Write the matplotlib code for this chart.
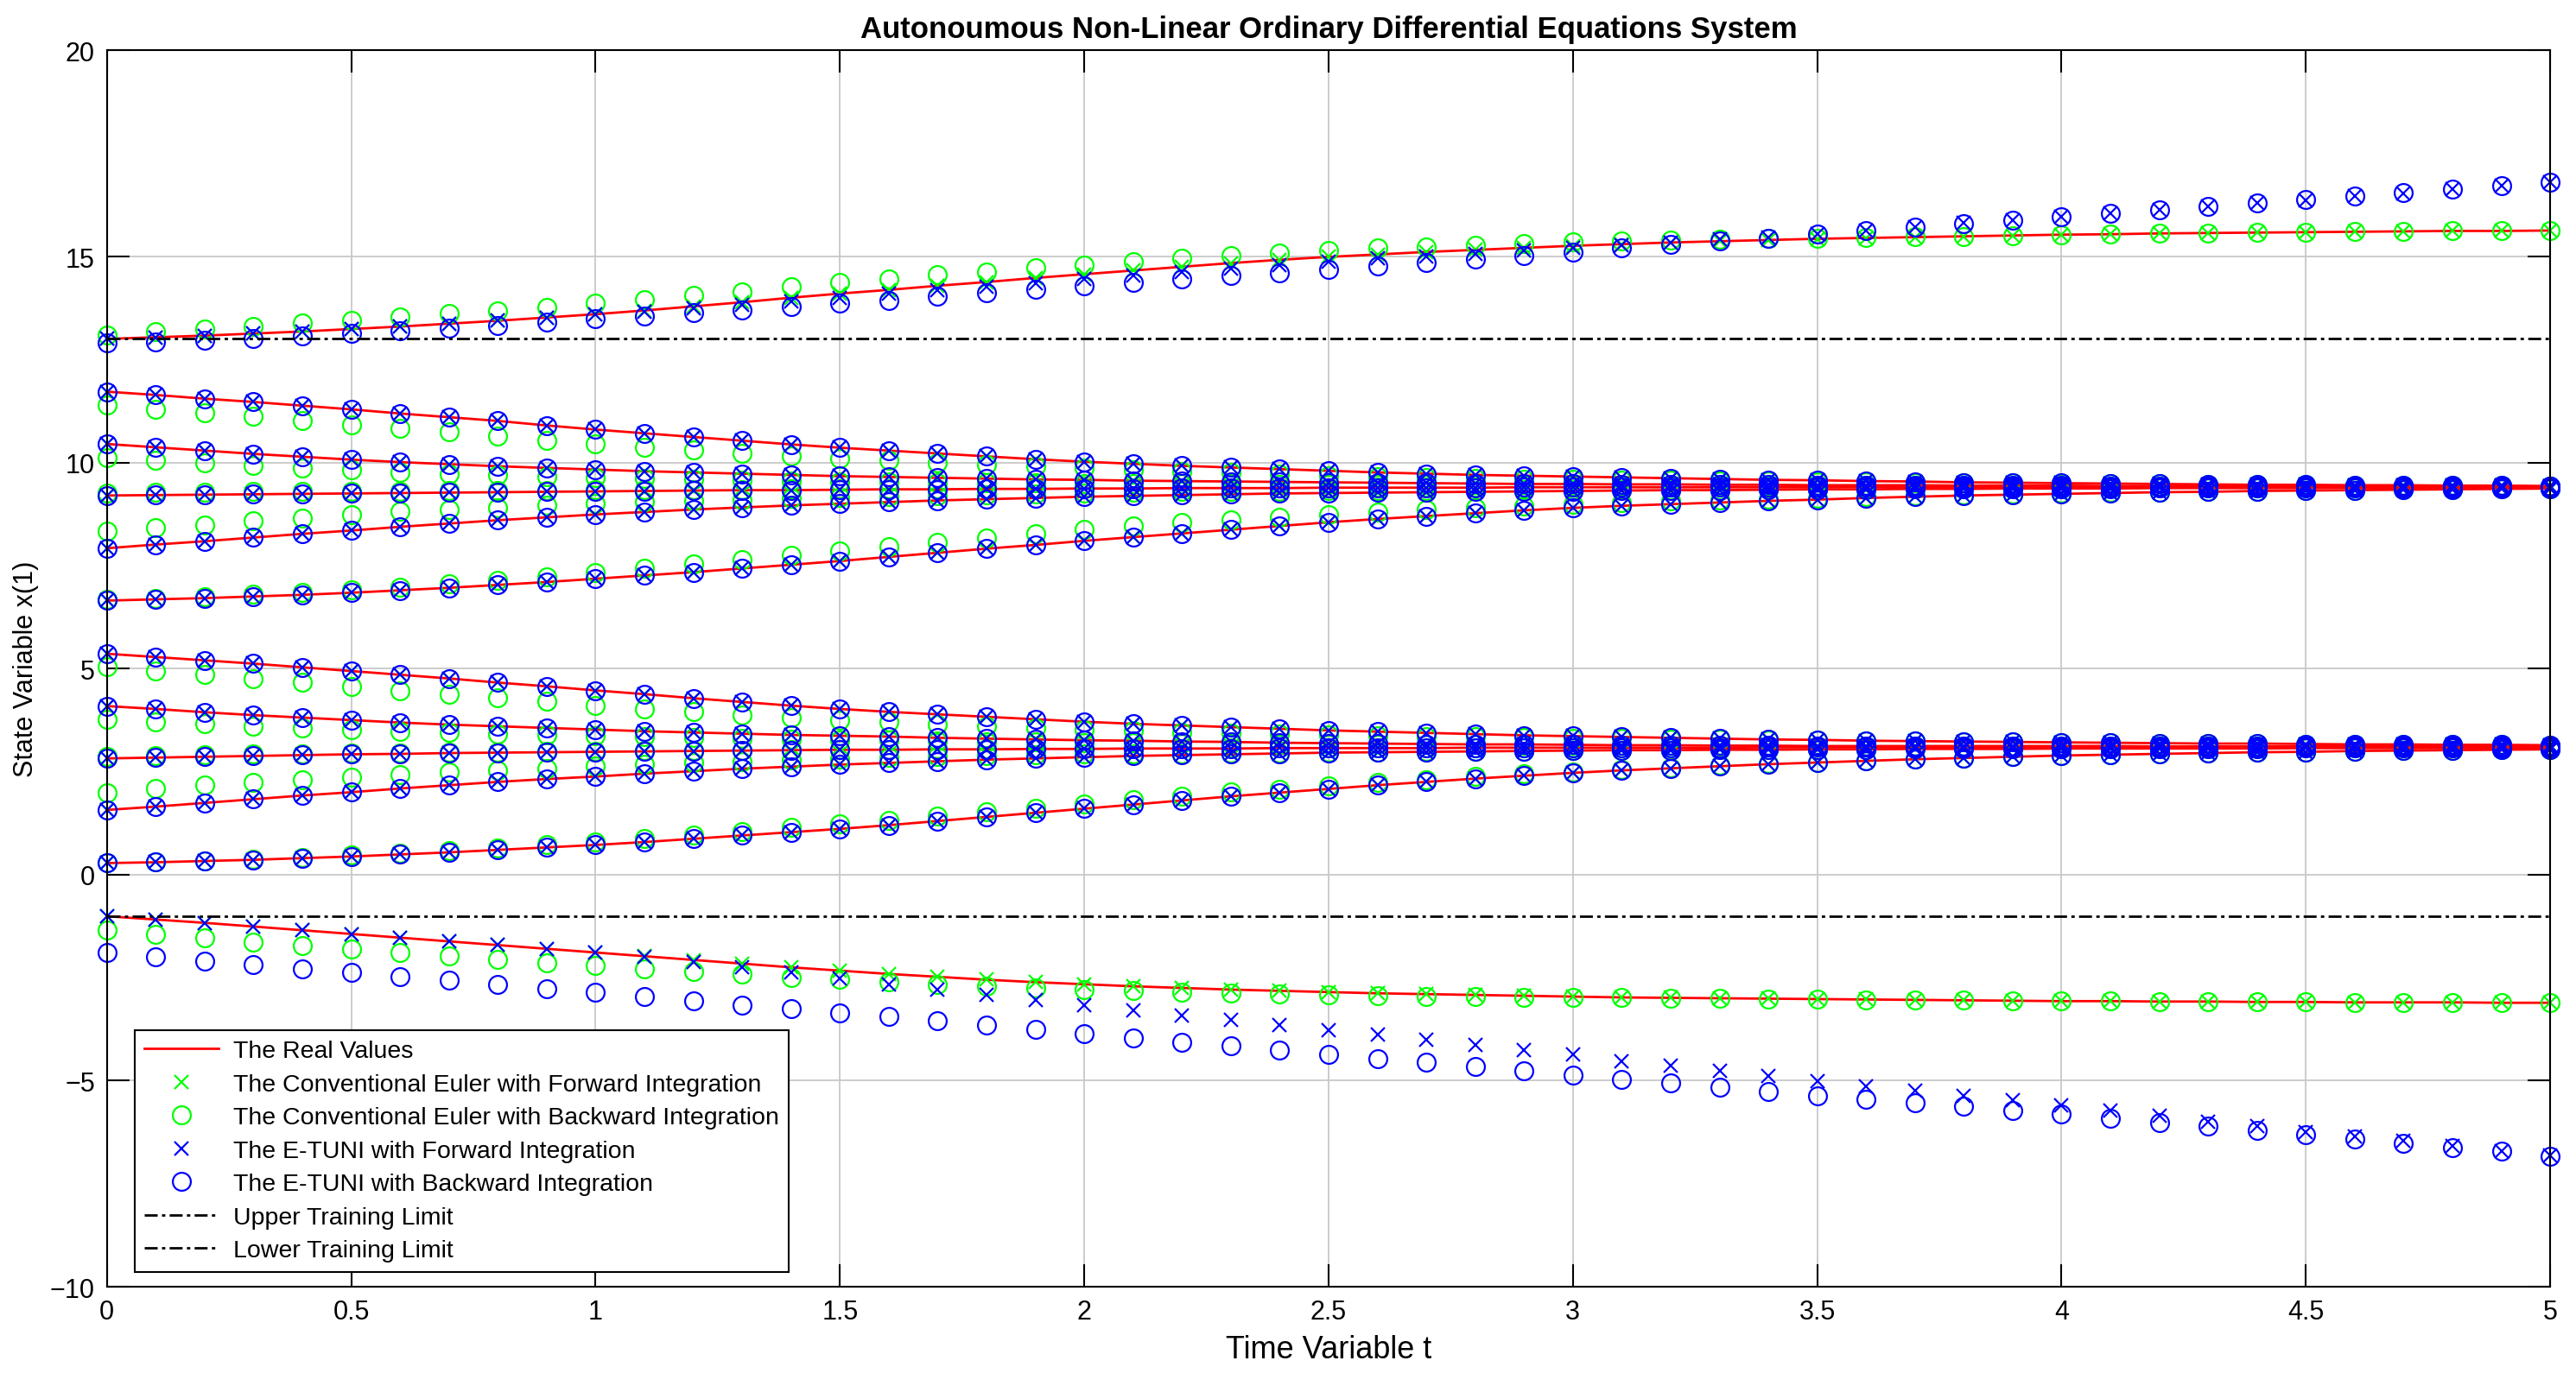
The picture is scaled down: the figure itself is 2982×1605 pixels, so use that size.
import matplotlib
matplotlib.use("Agg")
import matplotlib.pyplot as plt

plt.rcParams["font.family"] = ["Liberation Sans", "DejaVu Sans"]

# time grid (markers every 0.1)
t = [0.0, 0.1, 0.2, 0.3, 0.4, 0.5, 0.6, 0.7, 0.8, 0.9,
     1.0, 1.1, 1.2, 1.3, 1.4, 1.5, 1.6, 1.7, 1.8, 1.9,
     2.0, 2.1, 2.2, 2.3, 2.4, 2.5, 2.6, 2.7, 2.8, 2.9,
     3.0, 3.1, 3.2, 3.3, 3.4, 3.5, 3.6, 3.7, 3.8, 3.9,
     4.0, 4.1, 4.2, 4.3, 4.4, 4.5, 4.6, 4.7, 4.8, 4.9,
     5.0]

UPPER_LIMIT = 13.0
LOWER_LIMIT = -1.0

# ---- real values, one list per initial condition ----
real_01 = [13.00, 13.04, 13.08, 13.13, 13.18, 13.24, 13.30, 13.37, 13.44, 13.52,
           13.60, 13.69, 13.79, 13.89, 14.00, 14.10, 14.19, 14.29, 14.38, 14.48,
           14.57, 14.66, 14.75, 14.84, 14.92, 14.99, 15.05, 15.11, 15.16, 15.21,
           15.26, 15.30, 15.34, 15.37, 15.40, 15.43, 15.45, 15.47, 15.49, 15.51,
           15.53, 15.54, 15.56, 15.57, 15.58, 15.59, 15.60, 15.61, 15.62, 15.62,
           15.63]
real_02 = [11.72, 11.64, 11.55, 11.47, 11.38, 11.29, 11.19, 11.10, 11.01, 10.90,
           10.80, 10.71, 10.62, 10.53, 10.44, 10.36, 10.29, 10.22, 10.15, 10.08,
           10.02, 9.97, 9.92, 9.88, 9.84, 9.80, 9.76, 9.73, 9.70, 9.68,
           9.66, 9.64, 9.62, 9.60, 9.58, 9.57, 9.55, 9.54, 9.52, 9.51,
           9.50, 9.49, 9.48, 9.47, 9.46, 9.46, 9.45, 9.45, 9.44, 9.44,
           9.43]
real_03 = [10.45, 10.37, 10.29, 10.21, 10.14, 10.07, 10.01, 9.96, 9.91, 9.87,
           9.83, 9.79, 9.76, 9.73, 9.70, 9.67, 9.65, 9.63, 9.61, 9.59,
           9.58, 9.56, 9.55, 9.54, 9.53, 9.52, 9.51, 9.50, 9.49, 9.48,
           9.48, 9.47, 9.47, 9.46, 9.46, 9.45, 9.45, 9.45, 9.44, 9.44,
           9.44, 9.43, 9.43, 9.43, 9.43, 9.42, 9.42, 9.42, 9.42, 9.42,
           9.42]
real_04 = [9.20, 9.21, 9.22, 9.23, 9.24, 9.25, 9.26, 9.27, 9.28, 9.29,
           9.30, 9.31, 9.32, 9.33, 9.33, 9.34, 9.35, 9.35, 9.36, 9.36,
           9.37, 9.37, 9.38, 9.38, 9.38, 9.39, 9.39, 9.39, 9.39, 9.40,
           9.40, 9.40, 9.40, 9.40, 9.40, 9.40, 9.41, 9.41, 9.41, 9.41,
           9.41, 9.41, 9.41, 9.41, 9.41, 9.41, 9.41, 9.41, 9.41, 9.41,
           9.41]
real_05 = [7.92, 8.01, 8.09, 8.18, 8.27, 8.35, 8.44, 8.52, 8.60, 8.67,
           8.74, 8.80, 8.86, 8.91, 8.96, 9.00, 9.04, 9.08, 9.11, 9.14,
           9.17, 9.19, 9.21, 9.23, 9.25, 9.26, 9.27, 9.28, 9.29, 9.30,
           9.31, 9.32, 9.33, 9.33, 9.34, 9.35, 9.35, 9.36, 9.36, 9.37,
           9.37, 9.37, 9.38, 9.38, 9.38, 9.38, 9.39, 9.39, 9.39, 9.39,
           9.39]
real_06 = [6.65, 6.68, 6.71, 6.75, 6.79, 6.84, 6.90, 6.96, 7.03, 7.10,
           7.18, 7.26, 7.34, 7.43, 7.52, 7.61, 7.71, 7.81, 7.91, 8.00,
           8.10, 8.19, 8.28, 8.37, 8.46, 8.55, 8.63, 8.70, 8.77, 8.84,
           8.90, 8.95, 8.99, 9.03, 9.07, 9.10, 9.14, 9.17, 9.20, 9.22,
           9.24, 9.26, 9.28, 9.29, 9.31, 9.32, 9.33, 9.34, 9.35, 9.36,
           9.37]
real_07 = [5.36, 5.28, 5.20, 5.12, 5.03, 4.94, 4.85, 4.76, 4.66, 4.57,
           4.47, 4.38, 4.28, 4.19, 4.10, 4.02, 3.95, 3.89, 3.83, 3.77,
           3.71, 3.66, 3.62, 3.58, 3.54, 3.50, 3.47, 3.44, 3.41, 3.38,
           3.36, 3.34, 3.32, 3.30, 3.28, 3.27, 3.25, 3.24, 3.23, 3.22,
           3.21, 3.20, 3.19, 3.18, 3.18, 3.17, 3.16, 3.16, 3.15, 3.15,
           3.14]
real_08 = [4.09, 4.02, 3.94, 3.87, 3.81, 3.75, 3.69, 3.64, 3.60, 3.56,
           3.52, 3.48, 3.45, 3.42, 3.39, 3.37, 3.35, 3.32, 3.30, 3.28,
           3.26, 3.25, 3.23, 3.22, 3.20, 3.19, 3.18, 3.17, 3.16, 3.16,
           3.15, 3.14, 3.14, 3.13, 3.13, 3.12, 3.12, 3.12, 3.12, 3.12,
           3.12, 3.12, 3.11, 3.11, 3.11, 3.11, 3.11, 3.11, 3.11, 3.11,
           3.11]
real_09 = [2.82, 2.84, 2.86, 2.88, 2.90, 2.92, 2.93, 2.95, 2.96, 2.97,
           2.98, 2.99, 3.00, 3.01, 3.02, 3.03, 3.03, 3.04, 3.04, 3.05,
           3.05, 3.06, 3.06, 3.06, 3.07, 3.07, 3.07, 3.07, 3.08, 3.08,
           3.08, 3.08, 3.08, 3.08, 3.09, 3.09, 3.09, 3.09, 3.09, 3.09,
           3.09, 3.09, 3.09, 3.10, 3.10, 3.10, 3.10, 3.10, 3.10, 3.10,
           3.10]
real_10 = [1.57, 1.65, 1.74, 1.83, 1.92, 2.00, 2.09, 2.17, 2.25, 2.32,
           2.38, 2.45, 2.51, 2.57, 2.62, 2.67, 2.71, 2.75, 2.79, 2.82,
           2.85, 2.88, 2.90, 2.92, 2.94, 2.96, 2.97, 2.98, 2.99, 3.00,
           3.01, 3.02, 3.02, 3.03, 3.03, 3.04, 3.04, 3.05, 3.05, 3.05,
           3.06, 3.06, 3.06, 3.06, 3.06, 3.07, 3.07, 3.07, 3.07, 3.07,
           3.07]
real_11 = [0.28, 0.30, 0.33, 0.36, 0.40, 0.44, 0.49, 0.54, 0.60, 0.66,
           0.72, 0.79, 0.87, 0.95, 1.03, 1.11, 1.20, 1.30, 1.40, 1.50,
           1.60, 1.70, 1.80, 1.90, 1.99, 2.08, 2.17, 2.25, 2.33, 2.40,
           2.47, 2.53, 2.58, 2.63, 2.68, 2.72, 2.76, 2.80, 2.83, 2.86,
           2.89, 2.91, 2.93, 2.95, 2.97, 2.98, 3.00, 3.01, 3.02, 3.03,
           3.04]
real_12 = [-1.01, -1.09, -1.17, -1.26, -1.35, -1.44, -1.53, -1.62, -1.71, -1.80,
           -1.89, -1.98, -2.07, -2.16, -2.25, -2.33, -2.41, -2.48, -2.55, -2.61,
           -2.66, -2.71, -2.75, -2.79, -2.82, -2.85, -2.88, -2.90, -2.92, -2.94,
           -2.96, -2.98, -2.99, -3.00, -3.01, -3.02, -3.03, -3.04, -3.05, -3.06,
           -3.07, -3.07, -3.08, -3.08, -3.09, -3.09, -3.10, -3.10, -3.10, -3.11,
           -3.11]

# ---- conventional Euler, backward integration (green circles) ----
euler_bwd_01 = [13.10, 13.17, 13.24, 13.31, 13.38, 13.45, 13.53, 13.61, 13.68, 13.77,
                13.87, 13.96, 14.05, 14.15, 14.26, 14.37, 14.46, 14.55, 14.63, 14.72,
                14.80, 14.88, 14.95, 15.02, 15.09, 15.15, 15.20, 15.24, 15.28, 15.32,
                15.35, 15.38, 15.40, 15.42, 15.44, 15.45, 15.46, 15.48, 15.49, 15.51,
                15.53, 15.54, 15.56, 15.57, 15.58, 15.59, 15.60, 15.61, 15.62, 15.62,
                15.63]
euler_bwd_02 = [11.39, 11.30, 11.21, 11.12, 11.02, 10.92, 10.83, 10.74, 10.65, 10.54,
                10.45, 10.37, 10.30, 10.23, 10.16, 10.10, 10.05, 10.00, 9.95, 9.90,
                9.86, 9.83, 9.79, 9.76, 9.72, 9.68, 9.65, 9.63, 9.61, 9.60,
                9.59, 9.58, 9.57, 9.56, 9.55, 9.54, 9.53, 9.52, 9.51, 9.50,
                9.49, 9.48, 9.48, 9.47, 9.46, 9.46, 9.45, 9.45, 9.44, 9.44,
                9.43]
euler_bwd_03 = [10.12, 10.05, 9.99, 9.92, 9.86, 9.82, 9.77, 9.73, 9.69, 9.66,
                9.63, 9.61, 9.59, 9.57, 9.55, 9.54, 9.53, 9.52, 9.51, 9.50,
                9.49, 9.49, 9.48, 9.48, 9.47, 9.47, 9.47, 9.46, 9.46, 9.46,
                9.46, 9.45, 9.45, 9.45, 9.45, 9.44, 9.44, 9.44, 9.44, 9.44,
                9.43, 9.43, 9.43, 9.43, 9.43, 9.42, 9.42, 9.42, 9.42, 9.42,
                9.42]
euler_bwd_04 = [9.26, 9.27, 9.28, 9.29, 9.29, 9.30, 9.31, 9.32, 9.32, 9.33,
                9.34, 9.34, 9.35, 9.35, 9.36, 9.36, 9.37, 9.37, 9.37, 9.38,
                9.38, 9.38, 9.39, 9.39, 9.39, 9.39, 9.40, 9.40, 9.40, 9.40,
                9.40, 9.40, 9.40, 9.40, 9.40, 9.40, 9.41, 9.41, 9.41, 9.41,
                9.41, 9.41, 9.41, 9.41, 9.41, 9.41, 9.41, 9.41, 9.41, 9.41,
                9.41]
euler_bwd_05 = [8.33, 8.42, 8.49, 8.58, 8.66, 8.74, 8.81, 8.86, 8.91, 8.96,
                9.01, 9.04, 9.07, 9.10, 9.13, 9.16, 9.18, 9.20, 9.22, 9.24,
                9.26, 9.28, 9.29, 9.30, 9.31, 9.32, 9.32, 9.33, 9.33, 9.34,
                9.34, 9.35, 9.35, 9.35, 9.36, 9.36, 9.36, 9.37, 9.37, 9.37,
                9.37, 9.38, 9.38, 9.38, 9.38, 9.38, 9.39, 9.39, 9.39, 9.39,
                9.39]
euler_bwd_06 = [6.68, 6.71, 6.75, 6.80, 6.85, 6.91, 6.98, 7.06, 7.14, 7.23,
                7.33, 7.44, 7.55, 7.65, 7.76, 7.86, 7.96, 8.06, 8.16, 8.27,
                8.37, 8.46, 8.54, 8.61, 8.68, 8.74, 8.80, 8.85, 8.90, 8.95,
                8.99, 9.03, 9.06, 9.09, 9.12, 9.14, 9.17, 9.19, 9.21, 9.23,
                9.25, 9.27, 9.28, 9.30, 9.31, 9.32, 9.33, 9.34, 9.35, 9.36,
                9.37]
euler_bwd_07 = [5.05, 4.95, 4.85, 4.76, 4.66, 4.57, 4.47, 4.38, 4.29, 4.20,
                4.11, 4.03, 3.95, 3.88, 3.81, 3.75, 3.70, 3.65, 3.60, 3.56,
                3.52, 3.49, 3.46, 3.43, 3.41, 3.39, 3.37, 3.35, 3.34, 3.32,
                3.31, 3.30, 3.29, 3.28, 3.27, 3.26, 3.25, 3.24, 3.23, 3.22,
                3.21, 3.20, 3.19, 3.18, 3.18, 3.17, 3.16, 3.16, 3.15, 3.15,
                3.14]
euler_bwd_08 = [3.77, 3.71, 3.66, 3.61, 3.56, 3.52, 3.48, 3.45, 3.42, 3.39,
                3.37, 3.35, 3.33, 3.31, 3.29, 3.27, 3.26, 3.24, 3.23, 3.22,
                3.21, 3.20, 3.19, 3.18, 3.17, 3.16, 3.16, 3.15, 3.15, 3.14,
                3.14, 3.13, 3.13, 3.13, 3.12, 3.12, 3.12, 3.12, 3.12, 3.12,
                3.12, 3.12, 3.11, 3.11, 3.11, 3.11, 3.11, 3.11, 3.11, 3.11,
                3.11]
euler_bwd_09 = [2.86, 2.88, 2.90, 2.92, 2.93, 2.95, 2.96, 2.97, 2.98, 2.99,
                3.00, 3.01, 3.02, 3.02, 3.03, 3.04, 3.04, 3.05, 3.05, 3.05,
                3.06, 3.06, 3.06, 3.07, 3.07, 3.07, 3.07, 3.08, 3.08, 3.08,
                3.08, 3.08, 3.08, 3.08, 3.09, 3.09, 3.09, 3.09, 3.09, 3.09,
                3.09, 3.09, 3.09, 3.10, 3.10, 3.10, 3.10, 3.10, 3.10, 3.10,
                3.10]
euler_bwd_10 = [1.99, 2.09, 2.17, 2.24, 2.30, 2.36, 2.42, 2.48, 2.53, 2.58,
                2.63, 2.67, 2.71, 2.75, 2.78, 2.81, 2.84, 2.86, 2.88, 2.90,
                2.92, 2.93, 2.94, 2.95, 2.96, 2.97, 2.98, 2.99, 3.00, 3.00,
                3.01, 3.02, 3.02, 3.03, 3.03, 3.04, 3.04, 3.05, 3.05, 3.05,
                3.06, 3.06, 3.06, 3.06, 3.06, 3.07, 3.07, 3.07, 3.07, 3.07,
                3.07]
euler_bwd_11 = [0.28, 0.31, 0.34, 0.38, 0.42, 0.47, 0.52, 0.58, 0.65, 0.72,
                0.79, 0.87, 0.96, 1.05, 1.14, 1.23, 1.32, 1.42, 1.52, 1.62,
                1.72, 1.82, 1.91, 2.00, 2.08, 2.16, 2.24, 2.31, 2.38, 2.44,
                2.50, 2.55, 2.60, 2.65, 2.69, 2.73, 2.77, 2.80, 2.83, 2.86,
                2.89, 2.91, 2.93, 2.95, 2.97, 2.98, 3.00, 3.01, 3.02, 3.03,
                3.04]
euler_bwd_12 = [-1.35, -1.45, -1.54, -1.63, -1.72, -1.81, -1.89, -1.98, -2.06, -2.14,
                -2.21, -2.28, -2.35, -2.42, -2.49, -2.55, -2.61, -2.66, -2.71, -2.75,
                -2.79, -2.82, -2.85, -2.88, -2.90, -2.92, -2.94, -2.95, -2.96, -2.97,
                -2.98, -2.99, -3.00, -3.01, -3.02, -3.03, -3.04, -3.05, -3.05, -3.06,
                -3.07, -3.07, -3.08, -3.08, -3.09, -3.09, -3.10, -3.10, -3.10, -3.11,
                -3.11]

# ---- E-TUNI on the two trajectories leaving the training range ----
etuni_fwd_01 = [13.00, 13.04, 13.08, 13.13, 13.18, 13.24, 13.30, 13.37, 13.44, 13.52,
                13.60, 13.66, 13.74, 13.83, 13.91, 14.00, 14.09, 14.18, 14.27, 14.36,
                14.45, 14.54, 14.62, 14.71, 14.79, 14.87, 14.95, 15.01, 15.07, 15.14,
                15.20, 15.27, 15.34, 15.41, 15.47, 15.55, 15.63, 15.72, 15.81, 15.89,
                15.97, 16.05, 16.13, 16.21, 16.29, 16.37, 16.46, 16.54, 16.63, 16.71,
                16.80]
etuni_bwd_01 = [12.90, 12.93, 12.97, 13.01, 13.07, 13.13, 13.19, 13.26, 13.33, 13.41,
                13.49, 13.56, 13.63, 13.71, 13.78, 13.86, 13.94, 14.03, 14.11, 14.20,
                14.29, 14.37, 14.45, 14.53, 14.61, 14.69, 14.78, 14.86, 14.94, 15.02,
                15.10, 15.20, 15.29, 15.37, 15.45, 15.54, 15.63, 15.72, 15.80, 15.88,
                15.96, 16.05, 16.13, 16.21, 16.29, 16.38, 16.46, 16.55, 16.63, 16.72,
                16.81]
etuni_fwd_12 = [-1.01, -1.09, -1.17, -1.26, -1.35, -1.44, -1.53, -1.62, -1.71, -1.80,
                -1.90, -2.00, -2.11, -2.24, -2.38, -2.52, -2.66, -2.79, -2.92, -3.05,
                -3.16, -3.29, -3.41, -3.53, -3.65, -3.77, -3.88, -4.01, -4.13, -4.26,
                -4.37, -4.52, -4.64, -4.76, -4.88, -5.01, -5.13, -5.24, -5.36, -5.48,
                -5.60, -5.73, -5.86, -5.99, -6.11, -6.24, -6.35, -6.46, -6.59, -6.70,
                -6.82]
etuni_bwd_12 = [-1.90, -1.99, -2.09, -2.18, -2.28, -2.38, -2.47, -2.57, -2.66, -2.77,
                -2.86, -2.96, -3.07, -3.17, -3.26, -3.35, -3.45, -3.55, -3.65, -3.76,
                -3.86, -3.96, -4.06, -4.16, -4.26, -4.36, -4.46, -4.56, -4.66, -4.76,
                -4.86, -4.96, -5.06, -5.16, -5.26, -5.36, -5.45, -5.54, -5.63, -5.72,
                -5.81, -5.91, -6.01, -6.11, -6.20, -6.31, -6.41, -6.52, -6.62, -6.72,
                -6.83]

real = [real_01, real_02, real_03, real_04, real_05, real_06,
        real_07, real_08, real_09, real_10, real_11, real_12]
# forward Euler sits on the real values
euler_fwd = real
euler_bwd = [euler_bwd_01, euler_bwd_02, euler_bwd_03, euler_bwd_04, euler_bwd_05, euler_bwd_06,
             euler_bwd_07, euler_bwd_08, euler_bwd_09, euler_bwd_10, euler_bwd_11, euler_bwd_12]
# inside the training range E-TUNI matches the real values
etuni_fwd = [etuni_fwd_01] + real[1:11] + [etuni_fwd_12]
etuni_bwd = [etuni_bwd_01] + real[1:11] + [etuni_bwd_12]

GREEN = (0, 1, 0)
BLUE = (0, 0, 1)

fig, ax = plt.subplots(figsize=(29.82, 16.06), dpi=100)
fig.subplots_adjust(left=0.0415, right=0.990, bottom=0.0716, top=0.963)

for i, y in enumerate(real):
    ax.plot(t, y, color="r", lw=2, label="The Real Values" if i == 0 else None)
for i, y in enumerate(euler_fwd):
    ax.plot(t, y, "x", color=GREEN, ms=11, mew=1.6, clip_on=False,
            label="The Conventional Euler with Forward Integration" if i == 0 else None)
for i, y in enumerate(euler_bwd):
    ax.plot(t, y, "o", color=GREEN, mfc="none", ms=15, mew=1.6, clip_on=False,
            label="The Conventional Euler with Backward Integration" if i == 0 else None)
for i, y in enumerate(etuni_fwd):
    ax.plot(t, y, "x", color=BLUE, ms=11, mew=1.6, clip_on=False,
            label="The E-TUNI with Forward Integration" if i == 0 else None)
for i, y in enumerate(etuni_bwd):
    ax.plot(t, y, "o", color=BLUE, mfc="none", ms=15, mew=1.6, clip_on=False,
            label="The E-TUNI with Backward Integration" if i == 0 else None)

dashdot = (0, (5.4, 1.8, 1.4, 1.8))
ax.plot(t, [UPPER_LIMIT] * len(t), color="k", lw=2, linestyle=dashdot, label="Upper Training Limit")
ax.plot(t, [LOWER_LIMIT] * len(t), color="k", lw=2, linestyle=dashdot, label="Lower Training Limit")

ax.set_xlim(0, 5)
ax.set_ylim(-10, 20)
ax.set_xticks([0, 0.5, 1, 1.5, 2, 2.5, 3, 3.5, 4, 4.5, 5])
ax.set_xticklabels(["0", "0.5", "1", "1.5", "2", "2.5", "3", "3.5", "4", "4.5", "5"])
ax.set_yticks([-10, -5, 0, 5, 10, 15, 20])
ax.tick_params(direction="in", length=19, width=1.5, top=True, right=True,
               labelsize=22, pad=10)
for s in ax.spines.values():
    s.set_linewidth(1.5)
ax.grid(True, color="#c8c8c8", lw=1.3)
ax.set_axisbelow(True)

ax.set_title("Autonoumous Non-Linear Ordinary Differential Equations System",
             fontsize=25, fontweight="bold", pad=11)
ax.set_xlabel("Time Variable t", fontsize=26, labelpad=8)
ax.set_ylabel("State Variable x(1)", fontsize=22, labelpad=9)

leg = ax.legend(loc="lower left", bbox_to_anchor=(0.0113, 0.012), fontsize=20.5,
                fancybox=False, edgecolor="k", framealpha=1, borderpad=0.4,
                labelspacing=0.44, handlelength=3.0, handletextpad=0.6,
                borderaxespad=0, numpoints=1)
leg.get_frame().set_linewidth(1.5)

fig.savefig("out.png", dpi=100)
